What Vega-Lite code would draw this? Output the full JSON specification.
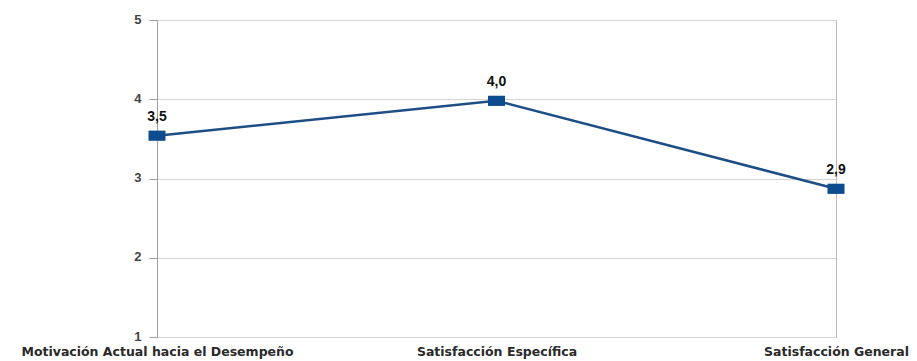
{
  "$schema": "https://vega.github.io/schema/vega-lite/v6.json",
  "width": 679,
  "height": 317,
  "autosize": "none",
  "padding": {"left": 157, "top": 20, "right": 81, "bottom": 24},
  "background": "white",
  "config": {"view": {"stroke": "#b8b8b8", "strokeWidth": 1}},
  "data": {"values": [
    {"categoria": "Motivación Actual hacia el Desempeño", "valor": 3.54, "etiqueta": "3,5"},
    {"categoria": "Satisfacción Específica", "valor": 3.98, "etiqueta": "4,0"},
    {"categoria": "Satisfacción General", "valor": 2.87, "etiqueta": "2,9"}
  ]},
  "encoding": {
    "x": {"field": "categoria", "type": "nominal", "sort": null,
      "scale": {"type": "point", "padding": 0},
      "axis": {"title": null, "labelAngle": 0, "ticks": false, "domain": false, "grid": false,
        "labelFont": "DejaVu Sans", "labelFontWeight": "bold", "labelFontSize": 12.5, "labelColor": "#2a2a2a",
        "labelPadding": 8, "labelLimit": 0, "labelOverlap": false}},
    "y": {"field": "valor", "type": "quantitative",
      "scale": {"domain": [1, 5], "nice": false, "zero": false},
      "axis": {"title": null, "values": [1, 2, 3, 4, 5], "format": "d", "grid": true, "gridColor": "#d4d4d4",
        "domainColor": "#a0a0a0", "tickColor": "#a0a0a0", "tickSize": 8,
        "labelFont": "Liberation Sans", "labelFontWeight": "bold", "labelFontSize": 13, "labelColor": "#444",
        "labelPadding": 8, "labelBaseline": "alphabetic", "labelOffset": 3}}
  },
  "layer": [
    {"mark": {"type": "line", "color": "#1d4f86", "strokeWidth": 2.5}},
    {"mark": {"type": "point", "shape": "M-1,-0.6H1V0.6H-1Z", "size": 289, "filled": true, "color": "#0d4c8e", "opacity": 1}},
    {"mark": {"type": "text", "dy": -19, "font": "Liberation Sans", "fontWeight": "bold", "fontSize": 14, "color": "#111"},
      "encoding": {"text": {"field": "etiqueta"}}}
  ]
}
